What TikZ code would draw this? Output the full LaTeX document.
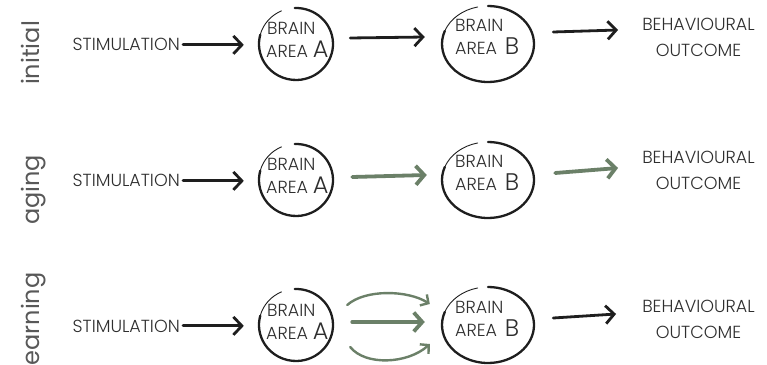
\documentclass[tikz,border=0pt]{standalone}
\usepackage{fontspec}
\setmainfont{Poppins}
\newfontfamily\capsfont{Poppins Light}
\usetikzlibrary{arrows.meta,shapes.geometric,calc}
\definecolor{ink}{HTML}{1E1E1E}
\definecolor{sage}{HTML}{6B8068}
\definecolor{lettering}{HTML}{2E2E2E}
\begin{document}
\begin{tikzpicture}[x=1pt,y=1pt,
  lbl/.style={font=\capsfont\fontsize{17.5}{17.5}\selectfont, text=lettering, inner sep=0pt},
  outlbl/.style={lbl, align=center, font=\capsfont\fontsize{17.5}{26.5}\selectfont},
  side/.style={font=\fontsize{24}{24}\selectfont, text=lettering!80!white, inner sep=0pt, rotate=90},
  region/.style={ellipse, inner sep=0pt},
  ring/.style={draw=ink, line width=2.3pt, line cap=round},
  tail/.style={draw=ink, line width=0.9pt, line cap=round},
  feed/.style={draw=ink, line width=2.8pt, line cap=round, -{Straight Barb[length=8.5pt,width=18pt]}},
  weak/.style={draw=sage, line width=3.8pt, line cap=round, -{Straight Barb[length=8.5pt,width=19pt]}},
  loopback/.style={draw=sage, line width=2.4pt, line cap=round, -{Straight Barb[length=6pt,width=13pt]}},
]
\useasboundingbox (0,0) rectangle (767,364);
\clip (0,0) rectangle (767,364);

% row labels
\node[side, anchor=base] (lab1) at (39,311) {initial};
\node[side, anchor=base] (lab2) at (39,174) {aging};
\node[side, anchor=base west] (lab3) at (39,-7.5) {learning};

% common parts of each row: stimulus, two brain areas, outcome
\foreach \r/\yc/\ob in {1/320/6.5, 2/184/9.5, 3/39/5.5} {
  \node[lbl, anchor=base east] (stim\r) at (180,\yc-7) {STIMULATION};
  \node[region, minimum width=74pt, minimum height=72pt] (A\r) at (296,\yc) {};
  \node[region, minimum width=92pt, minimum height=76pt] (B\r) at (488,\yc) {};
  \node[outlbl] (out\r) at (698.5,\yc+\ob) {BEHAVIOURAL\\OUTCOME};

  % hand-drawn outlines of the two areas
  \draw[ring] ([shift={(92:37 and 36)}]A\r.center)
     arc[start angle=92, end angle=-195, x radius=37, y radius=36];
  \draw[tail] ([shift={(165:37 and 36)}]A\r.center)
     arc[start angle=165, end angle=113, x radius=37, y radius=36];
  \draw[ring] ([shift={(90:46 and 38)}]B\r.center)
     arc[start angle=90, end angle=-200, x radius=46, y radius=38];
  \draw[tail] ([shift={(160:46 and 38)}]B\r.center)
     arc[start angle=160, end angle=103, x radius=46, y radius=38];

  % area labels
  \node[lbl, anchor=base west] (bA\r) at (267,\yc+9) {BRAIN};
  \node[lbl, anchor=base west] (aA\r) at (266,\yc-14) {AREA {\fontsize{24}{24}\selectfont A}};
  \node[lbl, anchor=base west] (bB\r) at (455,\yc+12) {BRAIN};
  \node[lbl, anchor=base west] (aB\r) at (455,\yc-11) {AREA\, {\fontsize{24}{24}\selectfont B}};

  % stimulus into area A
  \draw[feed] ([xshift=3pt]stim\r.east) -- ([xshift=-15pt]stim\r.east -| A\r.west);
}

% area A to area B
\draw[feed] ([xshift=17pt,yshift=6pt]A1.east) -- ([xshift=-17pt,yshift=7pt]B1.west);
\draw[weak] ([xshift=19pt,yshift=3pt]A2.east) -- ([xshift=-15pt,yshift=5pt]B2.west);
\draw[weak] ([xshift=19pt,yshift=3pt]A3.east) -- ([xshift=-17pt,yshift=3pt]B3.west);
\draw[loopback] ([shift={(14,20)}]A3.east) .. controls +(18,16) and +(-22,14) .. ([shift={(-12,21)}]B3.west);
\draw[loopback] ([shift={(17,-22)}]A3.east) .. controls +(15,-19) and +(-22,-20) .. ([shift={(-12,-19)}]B3.west);

% area B to outcome
\draw[feed] ([xshift=19pt,yshift=12pt]B1.east) -- ([xshift=-24pt,yshift=7.5pt]out1.west);
\draw[weak] ([xshift=21pt,yshift=7pt]B2.east) -- ([xshift=-24pt,yshift=2.5pt]out2.west);
\draw[feed] ([xshift=19pt,yshift=7pt]B3.east) -- ([xshift=-26pt,yshift=5.5pt]out3.west);
\end{tikzpicture}
\end{document}
